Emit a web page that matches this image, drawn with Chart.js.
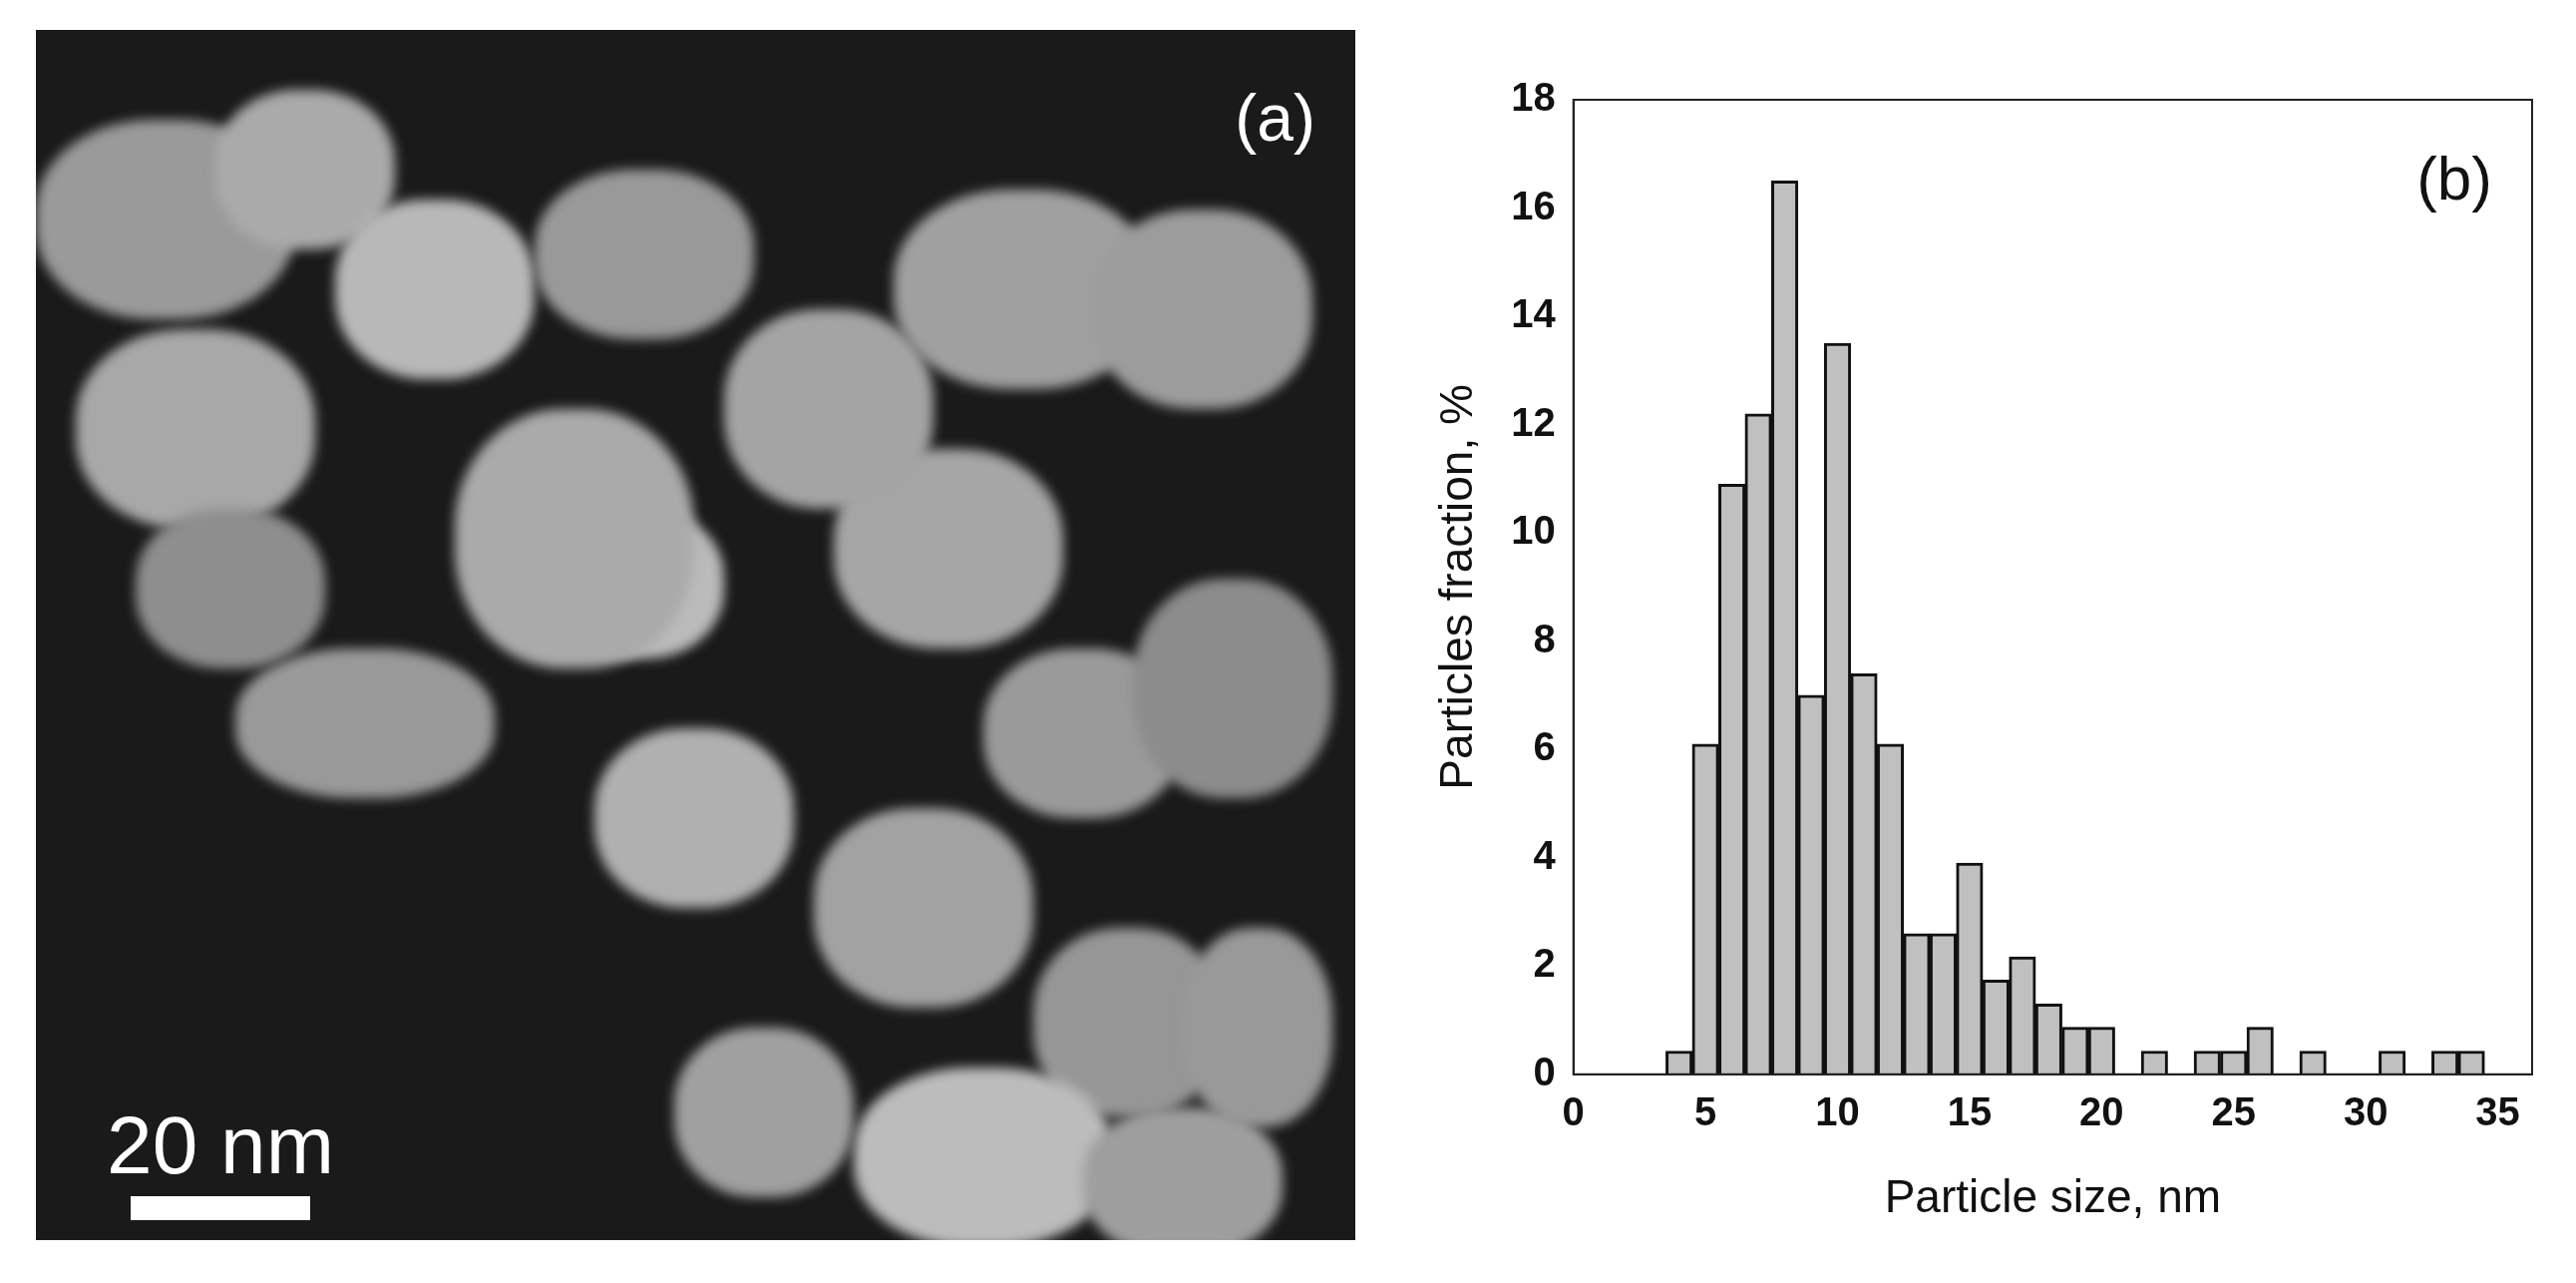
<!DOCTYPE html>
<html><head><meta charset="utf-8">
<script src="https://cdn.jsdelivr.net/npm/chart.js@4"></script>
<style>
html,body{margin:0;padding:0;background:#fff;width:2583px;height:1286px;overflow:hidden;font-family:"Liberation Sans",Arial,sans-serif}
#img{position:absolute;left:36px;top:30px;width:1323px;height:1213px;background:#1a1a1a;overflow:hidden}
#img .b{position:absolute;border-radius:45%;background:#8a8a8a;filter:blur(6px)}
#lab{position:absolute;right:40px;top:50px;color:#fff;font-size:66px}
#sb{position:absolute;left:45px;bottom:20px;color:#fff;font-size:82px;white-space:nowrap;width:280px;text-align:center}
#sb div{height:24px;width:180px;margin:4px auto 0 auto;background:#fff}
#c{position:absolute;left:0;top:0}
</style></head><body>
<div id="img"></div>
<canvas id="c" width="2583" height="1286"></canvas>
<script>
// Histogram data (bin centres, %)
const sizes = [4,5,6,7,8,9,10,11,12,13,14,15,16,17,18,19,20,21,22,23,24,25,26,27,28,29,30,31,32,33,34];
const fractions = [0.43,6.1,10.9,12.2,16.5,7.0,13.5,7.4,6.1,2.6,2.6,3.9,1.74,2.17,1.3,0.87,0.87,0,0.43,0,0.43,0.43,0.87,0,0.43,0,0,0.43,0,0.43,0.43];
const xTicks = [0,5,10,15,20,25,30,35];
const yTicks = [0,2,4,6,8,10,12,14,16,18];

// decorative micrograph backdrop (not data)
const img=document.getElementById('img');
const blobs=[[0,90,260,200,'#9a9a9a'],[180,60,180,160,'#aaa'],[300,170,200,180,'#b8b8b8'],[40,300,240,200,'#a8a8a8'],[500,140,220,170,'#999'],[520,480,170,150,'#bbb'],[860,160,260,200,'#a0a0a0'],[1060,180,220,200,'#9c9c9c'],[800,420,230,200,'#a6a6a6'],[950,620,200,170,'#9a9a9a'],[1100,550,200,220,'#8c8c8c'],[560,700,200,180,'#b0b0b0'],[780,780,220,200,'#a2a2a2'],[1000,900,190,190,'#969696'],[820,1040,260,180,'#bcbcbc'],[640,1000,180,170,'#a0a0a0'],[200,620,260,150,'#999'],[420,380,240,260,'#aaa'],[690,280,210,200,'#a4a4a4'],[100,480,190,160,'#8e8e8e'],[1150,900,150,200,'#999'],[1050,1080,200,150,'#9e9e9e']];
blobs.forEach(b=>{const d=document.createElement('div');d.className='b';d.style.cssText=`left:${b[0]}px;top:${b[1]}px;width:${b[2]}px;height:${b[3]}px;background:${b[4]}`;img.appendChild(d);});
img.insertAdjacentHTML('beforeend','<div id="lab">(a)</div><div id="sb">20 nm<div></div></div>');

const frame={id:'frame',afterDraw(ch){const a=ch.chartArea,c=ch.ctx;c.save();c.strokeStyle='#222';c.lineWidth=2;c.strokeRect(a.left,a.top,a.right-a.left,a.bottom-a.top);
c.fillStyle='#111';c.font='62px "Liberation Sans"';c.textAlign='right';c.fillText('(b)',a.right-40,a.top+100);c.restore();}};

new Chart(document.getElementById('c'),{
 type:'bar',
 data:{datasets:[{data:sizes.map((s,i)=>({x:s,y:fractions[i]})),backgroundColor:'#c0c0c0',borderColor:'#111',borderWidth:3,barPercentage:1,categoryPercentage:1,borderSkipped:'bottom'}]},
 options:{responsive:false,animation:false,devicePixelRatio:1,
  layout:{padding:{left:1432,top:100,right:44,bottom:52}},
  plugins:{legend:{display:false},tooltip:{enabled:false}},
  scales:{
   x:{type:'linear',min:0,max:36.3,offset:false,grid:{display:false,drawTicks:true},border:{color:'#222',width:2},
      afterBuildTicks(s){s.ticks=xTicks.map(v=>({value:v}));},
      ticks:{color:'#111',font:{size:40,weight:'bold',family:'Liberation Sans'},padding:8,maxRotation:0},
      title:{display:true,text:'Particle size, nm',color:'#111',font:{size:46,family:'Liberation Sans'},padding:{top:26}}},
   y:{min:0,max:18,grid:{display:false},border:{color:'#222',width:2},
      afterBuildTicks(s){s.ticks=yTicks.map(v=>({value:v}));},
      ticks:{color:'#111',font:{size:40,weight:'bold',family:'Liberation Sans'},padding:10},
      title:{display:true,text:'Particles fraction, %',color:'#111',font:{size:46,family:'Liberation Sans'},padding:{bottom:14}}}
  }},
 plugins:[frame]
});
</script></body></html>
